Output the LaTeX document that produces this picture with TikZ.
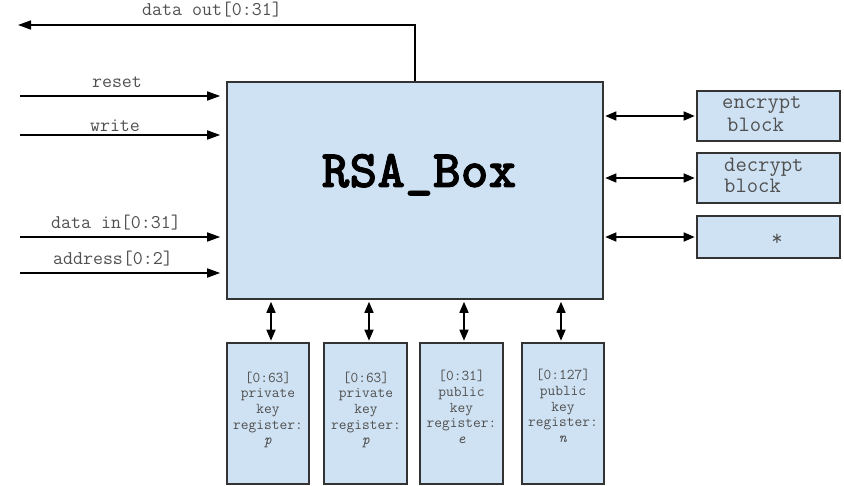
\documentclass[tikz,border=0pt]{standalone}
\usepackage{fontspec}
\newfontfamily\titlefont{lmmonolt10-bold}[Extension=.otf, FakeBold=1.5]
\usetikzlibrary{arrows.meta}
\definecolor{boxfill}{HTML}{CFE2F3}
\definecolor{edge}{HTML}{333333}
\definecolor{labelgray}{HTML}{505050}

\begin{document}
\begin{tikzpicture}[x=1pt,y=-1pt,
  blk/.style={draw=edge, line width=1.6pt, fill=boxfill, inner sep=0pt},
  wire/.style={draw=black, line width=1.6pt, line join=miter},
  tip/.style={-{Triangle[length=13pt,width=9pt]}},
  both/.style={{Triangle[length=11pt,width=9pt]}-{Triangle[length=11pt,width=9pt]}},
  sig/.style={font=\ttfamily\fontsize{19.4}{22}\selectfont, text=labelgray, inner sep=0pt, anchor=base},
  blktext/.style={font=\ttfamily\fontsize{22}{25}\selectfont, text=labelgray, inner sep=0pt},
  regtext/.style={font=\ttfamily\fontsize{15}{15.7}\selectfont, text=labelgray, inner sep=0pt, align=center}
]
\useasboundingbox (0,0) rectangle (844,486);

% central block
\node[blk, minimum width=376pt, minimum height=217pt] (rsa) at (415,190.5) {};
\node[font=\titlefont\fontsize{53}{56}\selectfont, inner sep=0pt, anchor=base] (title) at (419,187) {RSA\_Box};

% output bus
\coordinate (dtap) at (415,25);
\coordinate (dend) at (18,25);
\draw[wire,tip] (dtap |- rsa.north) -- (dtap) -- (dend);
\node[sig] (ldout) at (212,16) {data out[0:31]};

% inputs
\coordinate (inreset) at (20,96);
\coordinate (inwrite) at (20,135);
\coordinate (indata) at (20,237);
\coordinate (inaddr) at (20,273);
\foreach \c in {inreset,inwrite,indata,inaddr}
  \draw[wire,tip,shorten >=6pt] (\c) -- (\c -| rsa.west);
\node[sig] (lreset) at (117,88) {reset};
\node[sig] (lwrite) at (115,132) {write};
\node[sig] (ldata) at (116,229) {data in[0:31]};
\node[sig] (laddr) at (113,265) {address[0:2]};

% side blocks
\node[blk, minimum width=143pt, minimum height=50pt] (enc) at (768.5,116) {};
\node[blk, minimum width=143pt, minimum height=50pt] (dec) at (768.5,178) {};
\node[blk, minimum width=143pt, minimum height=42pt] (ext) at (768.5,237) {};
\node[blktext, anchor=base west] (encA) at (722,109) {encrypt};
\node[blktext, anchor=base west] (encB) at (727,132) {block};
\node[blktext, anchor=base west] (decA) at (724,172) {decrypt};
\node[blktext, anchor=base west] (decB) at (724,193) {block};
\node[blktext] (extA) at (777,240) {*};
\foreach \b in {enc,dec,ext}
  \draw[wire,both,shorten <=1.5pt,shorten >=1.5pt] (rsa.east |- \b.west) -- (\b.west);

% key registers
\node[blk, minimum width=82pt, minimum height=141pt] (reg1) at (268,413.5) {};
\node[blk, minimum width=83pt, minimum height=141pt] (reg2) at (365.5,413.5) {};
\node[blk, minimum width=83pt, minimum height=141pt] (reg3) at (461.5,413.5) {};
\node[blk, minimum width=82pt, minimum height=141pt] (reg4) at (563,413.5) {};
\node[regtext] (t1) at (268,410) {[0:63]\\private\\key\\register:\\\textit{p}};
\node[regtext] (t2) at (366,410) {[0:63]\\private\\key\\register:\\\textit{p}};
\node[regtext] (t3) at (461.5,407) {[0:31]\\public\\key\\register:\\\textit{e}};
\node[regtext] (t4) at (563,406) {[0:127]\\public\\key\\register:\\\textit{n}};
\draw[wire,both,shorten <=1.5pt,shorten >=2pt] ([xshift=3pt]reg1.north) -- ([xshift=3pt]reg1.north |- rsa.south);
\draw[wire,both,shorten <=1.5pt,shorten >=2pt] ([xshift=3.5pt]reg2.north) -- ([xshift=3.5pt]reg2.north |- rsa.south);
\draw[wire,both,shorten <=1.5pt,shorten >=2pt] ([xshift=2.5pt]reg3.north) -- ([xshift=2.5pt]reg3.north |- rsa.south);
\draw[wire,both,shorten <=1.5pt,shorten >=2pt] ([xshift=-2pt]reg4.north) -- ([xshift=-2pt]reg4.north |- rsa.south);
\end{tikzpicture}
\end{document}
